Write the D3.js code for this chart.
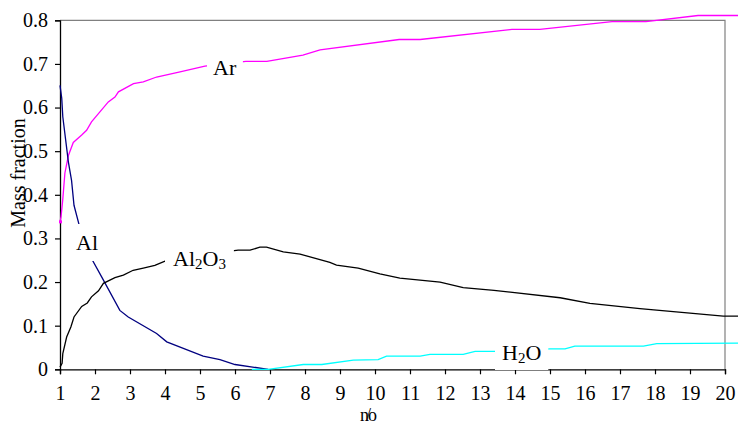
<!DOCTYPE html>
<html><head><meta charset="utf-8">
<script src="https://cdn.jsdelivr.net/npm/d3@7"></script>
<style>html,body{margin:0;padding:0;background:#fff;}svg{display:block;}</style>
</head><body>
<svg id="c" width="738" height="425"></svg>
<script>
const xTicks = [1,2,3,4,5,6,7,8,9,10,11,12,13,14,15,16,17,18,19,20];
const yTicks = [0,0.1,0.2,0.3,0.4,0.5,0.6,0.7,0.8];
const arData = [[1.0,0.338],[1.03,0.35],[1.08,0.39],[1.14,0.45],[1.24,0.49],[1.38,0.52],[1.62,0.537],[1.76,0.548],[1.9,0.567],[2.14,0.59],[2.38,0.613],[2.57,0.624],[2.67,0.636],[3.1,0.655],[3.38,0.659],[3.76,0.67],[4.43,0.682],[5.14,0.695],[5.7,0.70],[6.31,0.706],[6.91,0.706],[7.94,0.72],[8.43,0.732],[10.69,0.756],[11.29,0.756],[13.91,0.779],[14.71,0.779],[16.77,0.797],[17.74,0.797],[19.23,0.811],[20.4,0.811]];
const alData = [[1.0,0.651],[1.05,0.621],[1.08,0.579],[1.24,0.475],[1.33,0.433],[1.4,0.376],[1.55,0.33],[1.9,0.254],[2.19,0.212],[2.71,0.135],[2.95,0.12],[3.76,0.082],[4.05,0.063],[5.09,0.030],[5.57,0.022],[6.0,0.011],[6.95,0.0]];
const al2o3Data = [[1.0,0.005],[1.06,0.014],[1.08,0.036],[1.19,0.074],[1.31,0.097],[1.4,0.12],[1.62,0.144],[1.78,0.152],[1.9,0.166],[2.1,0.18],[2.24,0.197],[2.57,0.21],[2.81,0.216],[3.09,0.227],[3.38,0.232],[3.71,0.238],[4.0,0.248],[5.0,0.262],[6.09,0.273],[6.43,0.273],[6.71,0.280],[6.9,0.280],[7.38,0.269],[7.86,0.264],[8.71,0.245],[8.9,0.239],[9.52,0.232],[10.14,0.219],[10.71,0.209],[11.86,0.2],[12.52,0.187],[13.4,0.181],[15.29,0.164],[16.14,0.151],[17.57,0.139],[19.0,0.129],[19.95,0.122],[20.4,0.122]];
const h2oData = [[6.48,0],[6.95,0],[7.95,0.011],[8.48,0.011],[9.38,0.021],[10.09,0.022],[10.33,0.030],[11.29,0.030],[11.57,0.034],[12.52,0.034],[12.86,0.041],[13.43,0.041],[14.3,0.044],[15.0,0.047],[15.43,0.047],[15.71,0.053],[17.67,0.053],[18.05,0.059],[20.4,0.06]];

const svg = d3.select("#c");
const font = "'Liberation Serif','Times New Roman',serif";
const x = d3.scaleLinear().domain([1,20]).range([60,725]);
const y = d3.scaleLinear().domain([0,0.8]).range([369.3,20.3]);

// frame (top & right, gray)
svg.append("path").attr("d",`M${x(1)},${y(0.8)}H${x(20)}V${y(0)}`)
  .attr("fill","none").attr("stroke","#808080").attr("stroke-width",1.2);

const line = d3.line().x(d=>x(d[0])).y(d=>y(d[1]));
const series = [
  {data:arData,color:"#FF00FF"},
  {data:alData,color:"#000080"},
  {data:al2o3Data,color:"#000000"},
  {data:h2oData,color:"#00FFFF"}
];

// axes
const xa = svg.append("g").attr("transform",`translate(0,${y(0)})`)
  .call(d3.axisBottom(x).tickValues(xTicks).tickSize(5).tickPadding(12).tickFormat(d3.format("d")));
const ya = svg.append("g").attr("transform",`translate(${x(1)},0)`)
  .call(d3.axisLeft(y).tickValues(yTicks).tickSize(5).tickPadding(7).tickFormat(d=>d===0?"0":d.toFixed(1)));
[xa,ya].forEach(g=>{
  g.selectAll("text").attr("font-family",font).attr("font-size",20).attr("fill","#000");
  g.selectAll("line").attr("stroke","#000").attr("stroke-width",1.2);
  g.select(".domain").attr("stroke","#000").attr("stroke-width",1.3);
});

series.forEach(s=>{
  svg.append("path").datum(s.data).attr("d",line)
    .attr("fill","none").attr("stroke",s.color).attr("stroke-width",1.3);
});
// start marker of Ar
svg.append("rect").attr("x",x(arData[0][0])-1).attr("y",y(arData[0][1])-1.5)
  .attr("width",3).attr("height",3).attr("fill","#FF00FF");

// labels with white background
const labels = [
  {parts:[["Ar",0]], lx:213, ly:75, pad:[6,3]},
  {parts:[["Al",0]], lx:76, ly:250, pad:[4,6]},
  {parts:[["Al",0],["2",1],["O",0],["3",1]], lx:173, ly:266, pad:[8,4]},
  {parts:[["H",0],["2",1],["O",0]], lx:502, ly:360, pad:[7,4]}
];
labels.forEach(l=>{
  const g = svg.append("g");
  const r = g.append("rect").attr("fill","#fff");
  const t = g.append("text").attr("x",l.lx).attr("y",l.ly)
    .attr("font-family",font).attr("font-size",22).attr("fill","#000");
  let prevSub = 0;
  l.parts.forEach(p=>{
    const ts = t.append("tspan").text(p[0]);
    if(p[1]){ ts.attr("font-size",15).attr("dy",prevSub?0:3); prevSub=1; }
    else { ts.attr("dy",prevSub?-3:0); prevSub=0; }
  });
  const b = t.node().getBBox();
  r.attr("x",b.x-l.pad[0]).attr("y",b.y-l.pad[1]).attr("width",b.width+2*l.pad[0]).attr("height",b.height+2*l.pad[1]);
});

// axis titles
svg.append("text").attr("transform","translate(25,173) rotate(-90)")
  .attr("text-anchor","middle").attr("font-family",font).attr("font-size",20).text("Mass fraction");
svg.append("text").attr("x",360).attr("y",421)
  .attr("font-family",font).attr("font-size",18).attr("letter-spacing",-3).text("n/o");
</script>
</body></html>
